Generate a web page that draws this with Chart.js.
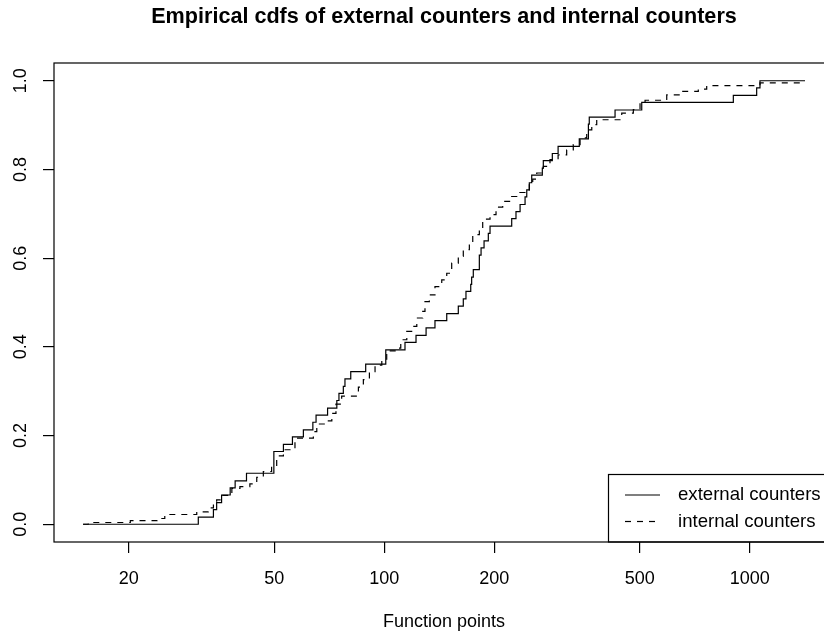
<!DOCTYPE html>
<html>
<head>
<meta charset="utf-8">
<title>Empirical cdfs</title>
<script src="https://cdn.jsdelivr.net/npm/chart.js@4.4.1/dist/chart.umd.min.js"></script>
<style>
    html, body { margin: 0; padding: 0; background: #fff; overflow: hidden; }
    #wrap { width: 850px; height: 635px; }
</style>
</head>
<body>
<div id="wrap"><canvas id="cdfChart" width="850" height="635"></canvas></div>
<script>
const chartTitle = 'Empirical cdfs of external counters and internal counters';
const xAxisTitle = 'Function points';
const seriesNames = ['external counters', 'internal counters'];

const xTicks = [20, 50, 100, 200, 500, 1000];
const yTicks = [0, 0.2, 0.4, 0.6, 0.8, 1];

// step positions (function points) and cdf value after each step
const externalFP = [15, 31, 34.1, 34.8, 35.9, 37.9, 39.1, 42, 49.9, 53, 56.1, 60.1, 63.8, 65.1, 70,
    74.2, 75.2, 77.3, 78.1, 81, 89, 101, 114, 122.2, 130.2, 137.7, 148.3, 159.5, 164.6, 167.4,
    172.5, 173.5, 175.3, 182.1, 184.1, 187.6, 192.7, 194.8, 223.3, 229.4, 235.4, 242.9, 245.5,
    249.5, 253.3, 270.8, 272.5, 288.4, 299.1, 341.8, 362, 364, 428.2, 506.6, 902.1, 1045, 1067, 1417];
const externalCdf = [0, 0.016, 0.033, 0.049, 0.066, 0.082, 0.098, 0.115, 0.164, 0.18, 0.197, 0.213,
    0.23, 0.246, 0.262, 0.279, 0.295, 0.311, 0.328, 0.344, 0.361, 0.393, 0.41, 0.426, 0.443, 0.459,
    0.475, 0.492, 0.508, 0.525, 0.541, 0.557, 0.574, 0.607, 0.623, 0.639, 0.656, 0.672, 0.689,
    0.705, 0.721, 0.738, 0.754, 0.77, 0.787, 0.803, 0.82, 0.836, 0.852, 0.869, 0.902, 0.918,
    0.934, 0.951, 0.967, 0.984, 1, 1];

const internalFP = [15, 15.5, 20.2, 23.9, 25.1, 30.7, 33, 34.1, 34.8, 35.9, 38.3, 40.3, 42.9, 44.8,
    46.7, 49.2, 50.8, 53, 57, 64, 65.4, 69.6, 71.9, 73.8, 76.5, 85, 87.7, 91.1, 94.4, 98.5, 101.6,
    107.1, 111, 115.3, 118.9, 122.8, 127.5, 129.3, 132.9, 137.7, 143.7, 148.3, 153, 159.5, 164.6,
    171, 174.7, 182.1, 186, 194.8, 202.3, 211, 223.3, 232.8, 242.9, 249.5, 254.9, 261.4, 272.5,
    284.2, 299.1, 315.7, 329.1, 343.5, 358.2, 369.8, 381.5, 446.6, 480.5, 501.2, 517.3, 593,
    644.9, 723.4, 762.8, 1045, 1067, 1417];
const internalCdf = [0, 0.004, 0.008, 0.013, 0.022, 0.028, 0.037, 0.045, 0.055, 0.065, 0.081, 0.085,
    0.091, 0.106, 0.119, 0.131, 0.154, 0.168, 0.194, 0.209, 0.226, 0.233, 0.25, 0.271, 0.289,
    0.309, 0.326, 0.344, 0.359, 0.372, 0.391, 0.397, 0.416, 0.435, 0.446, 0.465, 0.48, 0.502,
    0.517, 0.536, 0.551, 0.566, 0.589, 0.604, 0.619, 0.634, 0.653, 0.668, 0.688, 0.698, 0.715,
    0.728, 0.739, 0.748, 0.754, 0.765, 0.778, 0.792, 0.807, 0.822, 0.833, 0.844, 0.856, 0.871,
    0.889, 0.901, 0.912, 0.927, 0.935, 0.95, 0.956, 0.968, 0.976, 0.981, 0.989, 0.991, 0.995, 0.995];

const FONT = '"Liberation Sans", Arial, Helvetica, sans-serif';
const dashPattern = [6, 6];

const toPoints = (xs, ys) => xs.map((x, i) => ({ x: x, y: ys[i] }));

// box, rotated y labels, titles and the legend, drawn R style
const decorations = {
    id: 'decorations',
    afterDraw(chart) {
        const ctx = chart.ctx;
        const area = chart.chartArea;
        const yScale = chart.scales.y;
        ctx.save();
        ctx.strokeStyle = '#000';
        ctx.lineWidth = 1.2;
        ctx.strokeRect(area.left, area.top, area.right - area.left, area.bottom - area.top);

        ctx.fillStyle = '#000';
        ctx.font = '18px ' + FONT;
        ctx.textAlign = 'center';
        ctx.textBaseline = 'middle';
        yScale.ticks.forEach(t => {
            const py = yScale.getPixelForValue(t.value);
            ctx.save();
            ctx.translate(21, py);
            ctx.rotate(-Math.PI / 2);
            ctx.fillText(t.value.toFixed(1), 0, 0);
            ctx.restore();
        });

        const cx = (area.left + area.right) / 2;
        ctx.textBaseline = 'alphabetic';
        ctx.fillText(xAxisTitle, cx, 627);
        ctx.font = 'bold 21.6px ' + FONT;
        ctx.fillText(chartTitle, cx, 23);

        // legend in the bottom right corner of the plot
        const lx = 608.5, ly = 474.5;
        ctx.lineWidth = 1.2;
        ctx.strokeRect(lx, ly, area.right - lx, area.bottom - ly);
        ctx.font = '18.6px ' + FONT;
        ctx.textAlign = 'left';
        ctx.textBaseline = 'middle';
        const rows = [495, 521.5];
        chart.data.datasets.forEach((ds, i) => {
            ctx.beginPath();
            ctx.setLineDash(ds.borderDash || []);
            ctx.moveTo(625, rows[i]);
            ctx.lineTo(660, rows[i]);
            ctx.stroke();
            ctx.setLineDash([]);
            ctx.fillText(ds.label, 678, rows[i]);
        });
        ctx.restore();
    }
};

const axisGrid = {
    drawOnChartArea: false,
    drawTicks: true,
    tickLength: 11,
    color: '#000',
    tickColor: '#000',
    lineWidth: 1.2
};

new Chart(document.getElementById('cdfChart'), {
    type: 'line',
    data: {
        datasets: [
            {
                label: seriesNames[0],
                data: toPoints(externalFP, externalCdf),
                borderColor: '#000',
                borderWidth: 1.2,
                stepped: 'before',
                pointRadius: 0,
                fill: false
            },
            {
                label: seriesNames[1],
                data: toPoints(internalFP, internalCdf),
                borderColor: '#000',
                borderWidth: 1.2,
                borderDash: dashPattern,
                stepped: 'before',
                pointRadius: 0,
                fill: false
            }
        ]
    },
    options: {
        responsive: false,
        animation: false,
        layout: { padding: { top: 63, right: 16, bottom: 0, left: 0 } },
        plugins: {
            legend: { display: false },
            title: { display: false },
            tooltip: { enabled: false }
        },
        scales: {
            x: {
                type: 'logarithmic',
                min: 12.49,
                max: 1701,
                afterBuildTicks: scale => { scale.ticks = xTicks.map(v => ({ value: v })); },
                afterFit: scale => { scale.height = 93; },
                grid: axisGrid,
                border: { display: false },
                ticks: {
                    color: '#000',
                    font: { family: FONT, size: 18 },
                    padding: 15,
                    autoSkip: false,
                    maxRotation: 0,
                    callback: v => String(v)
                }
            },
            y: {
                type: 'linear',
                min: -0.04,
                max: 1.04,
                afterBuildTicks: scale => { scale.ticks = yTicks.map(v => ({ value: v })); },
                afterFit: scale => { scale.width = 54; },
                grid: axisGrid,
                border: { display: false },
                ticks: { display: false }
            }
        }
    },
    plugins: [decorations]
});
</script>
</body>
</html>
